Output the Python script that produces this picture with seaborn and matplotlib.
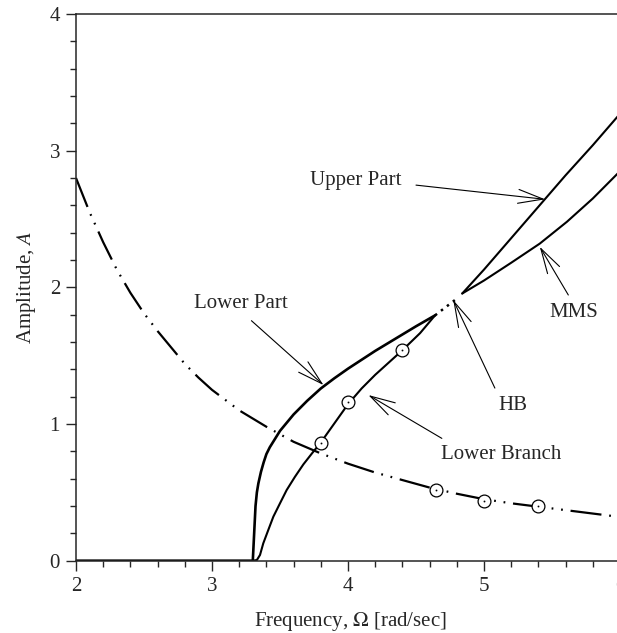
import numpy as np
import pandas as pd
import matplotlib.pyplot as plt
import seaborn as sns

# curve values
lower_part_x = [2.0, 3.30, 3.31, 3.32, 3.33, 3.341, 3.36, 3.38, 3.40, 3.425, 3.45, 3.50, 3.60,
                3.70, 3.80, 3.90, 4.00, 4.10, 4.20, 4.30, 4.40, 4.50, 4.64]
lower_part_y = [0.0, 0.0, 0.20, 0.40, 0.50, 0.566, 0.65, 0.72, 0.78, 0.83, 0.87, 0.95, 1.07,
                1.17, 1.26, 1.335, 1.405, 1.47, 1.535, 1.595, 1.655, 1.715, 1.795]

lower_branch_x = [3.30, 3.33, 3.353, 3.377, 3.414, 3.451, 3.50, 3.549, 3.61, 3.672, 3.735, 3.80,
                  3.90, 4.00, 4.10, 4.20, 4.30, 4.40, 4.53, 4.64]
lower_branch_y = [0.0, 0.005, 0.042, 0.127, 0.225, 0.322, 0.42, 0.517, 0.614, 0.705, 0.785, 0.865,
                  1.005, 1.145, 1.26, 1.36, 1.45, 1.54, 1.665, 1.795]

unstable_x = [4.64, 4.79]
unstable_y = [1.795, 1.91]

upper_part_x = [4.84, 5.00, 5.20, 5.40, 5.60, 5.80, 6.00]
upper_part_y = [1.955, 2.13, 2.36, 2.59, 2.82, 3.04, 3.27]

mms_x = [4.84, 5.00, 5.20, 5.41, 5.61, 5.80, 6.00]
mms_y = [1.955, 2.05, 2.18, 2.32, 2.48, 2.65, 2.85]

backbone_x = [2.0, 2.1, 2.2, 2.3, 2.4, 2.5, 2.6, 2.7, 2.8, 2.9, 3.0, 3.2, 3.4, 3.6, 3.8,
              4.0, 4.2, 4.4, 4.6, 4.8, 5.0, 5.2, 5.4, 5.6, 5.8, 6.0]
backbone_y = [2.80, 2.55, 2.33, 2.13, 1.96, 1.81, 1.68, 1.56, 1.44, 1.34, 1.25, 1.10, 0.98,
              0.87, 0.785, 0.71, 0.645, 0.59, 0.535, 0.49, 0.45, 0.42, 0.395, 0.37, 0.345, 0.32]

# numerical points (circles)
points_x = [3.80, 4.00, 4.40, 4.65, 5.00, 5.40]
points_y = [0.86, 1.16, 1.54, 0.52, 0.44, 0.40]

sns.set_style('ticks')
plt.rcParams['font.family'] = ['Liberation Serif', 'DejaVu Serif']
plt.rcParams['mathtext.fontset'] = 'stix'

fig = plt.figure(figsize=(6.17, 6.33), dpi=100)
ax = fig.add_axes([76 / 617, 72.3 / 633, 544 / 617, 546.7 / 633])

line_kw = dict(color='black', sort=False, estimator=None, legend=False, ax=ax)
sns.lineplot(x=lower_part_x, y=lower_part_y, lw=1.9, **line_kw)
sns.lineplot(x=lower_branch_x, y=lower_branch_y, lw=1.5, **line_kw)
sns.lineplot(x=unstable_x, y=unstable_y, lw=1.8, linestyle=(0, (1, 2)), **line_kw)
sns.lineplot(x=upper_part_x, y=upper_part_y, lw=1.5, **line_kw)
sns.lineplot(x=mms_x, y=mms_y, lw=1.5, **line_kw)
sns.lineplot(x=backbone_x, y=backbone_y, lw=1.6,
             linestyle=(0, (14, 3.5, 0.8, 3.5, 0.8, 3.5)), **line_kw)

sns.scatterplot(x=points_x, y=points_y, s=85, marker='o', facecolor='white',
                edgecolor='black', linewidth=0.9, zorder=5, ax=ax)
sns.scatterplot(x=points_x, y=points_y, s=2, color='black', zorder=6, ax=ax)

# labels with arrows
arrow = dict(arrowstyle='->,head_length=1.8,head_width=0.5', lw=0.8,
             color='black', mutation_scale=10, shrinkA=0, shrinkB=0)
notes = [
    ('Upper Part', (4.06, 2.785), (4.50, 2.748), (5.45, 2.644)),
    ('Lower Part', (3.21, 1.885), (3.29, 1.756), (3.82, 1.285)),
    ('HB', (5.21, 1.132), (5.08, 1.263), (4.774, 1.907)),
    ('Lower Branch', (5.13, 0.78), (4.69, 0.895), (4.15, 1.212)),
    ('MMS', (5.66, 1.814), (5.62, 1.944), (5.41, 2.297)),
]
for label, text_pos, tail, tip in notes:
    ax.text(text_pos[0], text_pos[1], label, fontsize=15, ha='center', va='center')
    ax.annotate('', xy=tip, xytext=tail, arrowprops=arrow)

ax.set_xlim(2, 6)
ax.set_ylim(0, 4)
ax.set_xticks([2, 3, 4, 5, 6])
ax.set_yticks([0, 1, 2, 3, 4])
ax.set_xticks(np.arange(2, 6.01, 0.2), minor=True)
ax.set_yticks(np.arange(0, 4.01, 0.2), minor=True)
ax.tick_params(which='major', direction='out', length=7.5, width=1, labelsize=15, pad=4)
ax.tick_params(which='minor', direction='out', length=4, width=1)
for side in ['left', 'bottom', 'top', 'right']:
    ax.spines[side].set_linewidth(1.1)
    ax.spines[side].set_visible(True)

ax.set_xlabel(r'Frequency, $\Omega$ [rad/sec]', fontsize=15)
ax.set_ylabel(r'Amplitude, $A$', fontsize=15)
ax.xaxis.set_label_coords(0.5037, -0.09)
ax.xaxis.label.set_va('top')
ax.yaxis.set_label_coords(-0.07, 0.5)

plt.savefig('out.png', dpi=100)
